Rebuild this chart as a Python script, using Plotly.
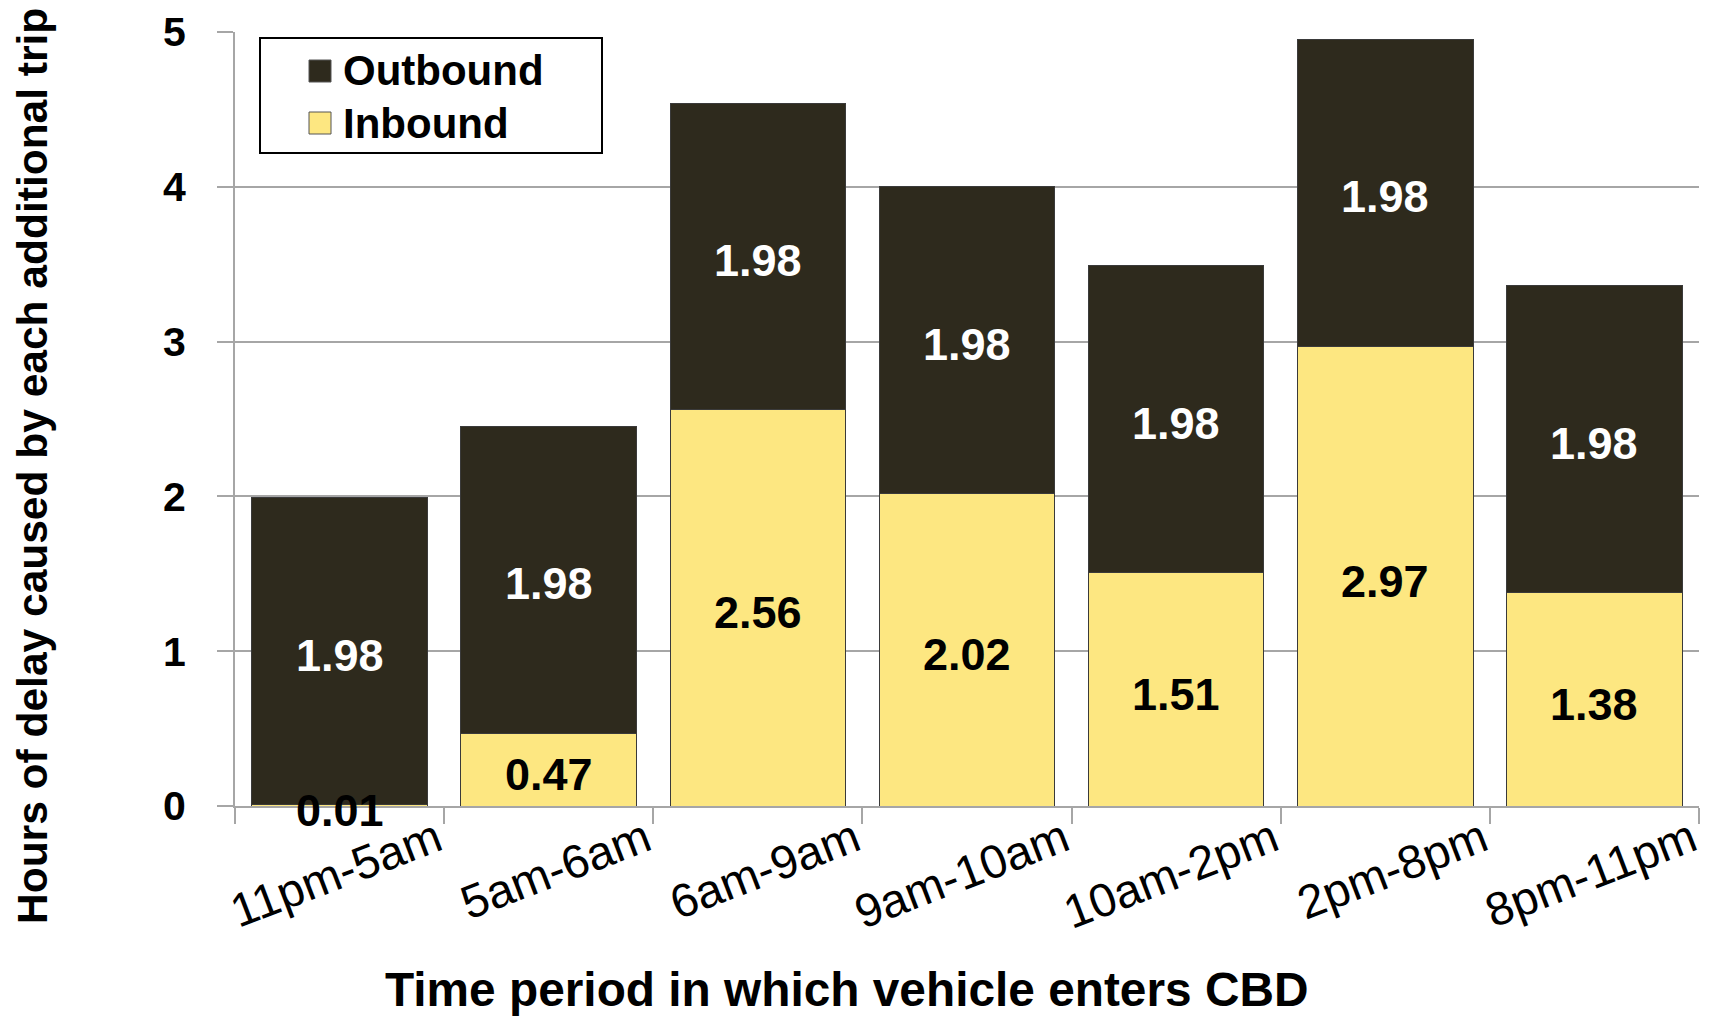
import plotly.graph_objects as go

categories = ["11pm-5am", "5am-6am", "6am-9am", "9am-10am", "10am-2pm", "2pm-8pm", "8pm-11pm"]
inbound = [0.01, 0.47, 2.56, 2.02, 1.51, 2.97, 1.38]
outbound = [1.98, 1.98, 1.98, 1.98, 1.98, 1.98, 1.98]
y_ticks = [0, 1, 2, 3, 4, 5]
series_names = ["Outbound", "Inbound"]
y_title = "Hours of delay caused by each additional trip"
x_title = "Time period in which vehicle enters CBD"

DARK = "#2E2A1D"
YELLOW = "#FDE781"
GRID = "#A6A6A6"
EDGE = "#3A3A3A"
FONT = "Liberation Sans, Arial, sans-serif"

# page body has an 8px default margin; size the figure so it fits the window
OFF = 8
W, H = 1713 - OFF, 1017 - OFF
# plot area in window pixels: x 235..1699, y 32..806
PX0, PX1, PY0, PY1 = 235, 1699, 32, 806
L, R, T, B = PX0 - OFF, W - (PX1 - OFF), PY0 - OFF, H - (PY1 - OFF)
PW, PH = PX1 - PX0, PY1 - PY0


def px_x(p):
    return (p - PX0) / PW


def px_y(p):
    return (PY1 - p) / PH


fig = go.Figure()
fig.add_trace(go.Bar(
    x=categories, y=inbound, name="Inbound", showlegend=False,
    marker=dict(color=YELLOW, line=dict(color=EDGE, width=1)),
))
fig.add_trace(go.Bar(
    x=categories, y=outbound, name="Outbound", showlegend=False,
    marker=dict(color=DARK, line=dict(color=EDGE, width=1)),
))

annotations = []
# data labels, centred in each segment
for c, vin, vout in zip(categories, inbound, outbound):
    annotations.append(dict(x=c, y=vin / 2, xref="x", yref="y", text=f"<b>{vin:.2f}</b>",
                            showarrow=False, yshift=-5,
                            font=dict(size=45, color="black", family=FONT)))
    annotations.append(dict(x=c, y=vin + vout / 2, xref="x", yref="y", text=f"<b>{vout:.2f}</b>",
                            showarrow=False, yshift=-4,
                            font=dict(size=45, color="white", family=FONT)))

# axis titles
annotations.append(dict(x=px_x(33), y=px_y(466), xref="paper", yref="paper", text=f"<b>{y_title}</b>",
                        textangle=-90, showarrow=False, xanchor="center", yanchor="middle",
                        font=dict(size=42.5, family=FONT, color="black")))
annotations.append(dict(x=px_x(846), y=px_y(989), xref="paper", yref="paper", text=f"<b>{x_title}</b>",
                        showarrow=False, xanchor="center", yanchor="middle",
                        font=dict(size=47.8, family=FONT, color="black")))

# legend box
shapes = [dict(type="rect", xref="paper", yref="paper",
               x0=px_x(260), x1=px_x(602), y0=px_y(153), y1=px_y(38),
               line=dict(color="black", width=2), fillcolor="white", layer="above")]
leg_colors = [DARK, YELLOW]
leg_y = [71, 123]
for name, col, yc in zip(series_names, leg_colors, leg_y):
    shapes.append(dict(type="rect", xref="paper", yref="paper",
                       x0=px_x(309), x1=px_x(331), y0=px_y(yc + 11), y1=px_y(yc - 11),
                       line=dict(color="#555555", width=1), fillcolor=col, layer="above"))
    annotations.append(dict(x=px_x(341), y=px_y(yc), xref="paper", yref="paper", text=f"<b>{name}</b>",
                            showarrow=False, xanchor="left", yanchor="middle",
                            font=dict(size=42, family=FONT, color="black")))

fig.update_layout(
    width=W, height=H,
    barmode="stack", bargap=0.16,
    plot_bgcolor="white", paper_bgcolor="white",
    margin=dict(l=L, r=R, t=T, b=B, autoexpand=False),
    font=dict(family=FONT, color="black"),
    showlegend=False,
    annotations=annotations,
    shapes=shapes,
)
fig.update_yaxes(
    range=[0, 5], tickvals=y_ticks, showgrid=True, gridcolor=GRID, gridwidth=2,
    showline=True, linecolor=GRID, linewidth=2,
    ticks="outside", ticklen=16, tickcolor=GRID, tickwidth=2,
    tickfont=dict(size=41, family=FONT, weight="bold"), ticklabelstandoff=23,
    zeroline=False, automargin=False,
)
fig.update_xaxes(
    showline=True, linecolor=GRID, linewidth=2,
    ticks="outside", tickson="boundaries", ticklen=16, tickcolor=GRID, tickwidth=2,
    tickangle=-21, tickfont=dict(size=47, family=FONT), ticklabelshift=97, ticklabelstandoff=-14,
    automargin=False,
)
fig.write_html("out.html")
